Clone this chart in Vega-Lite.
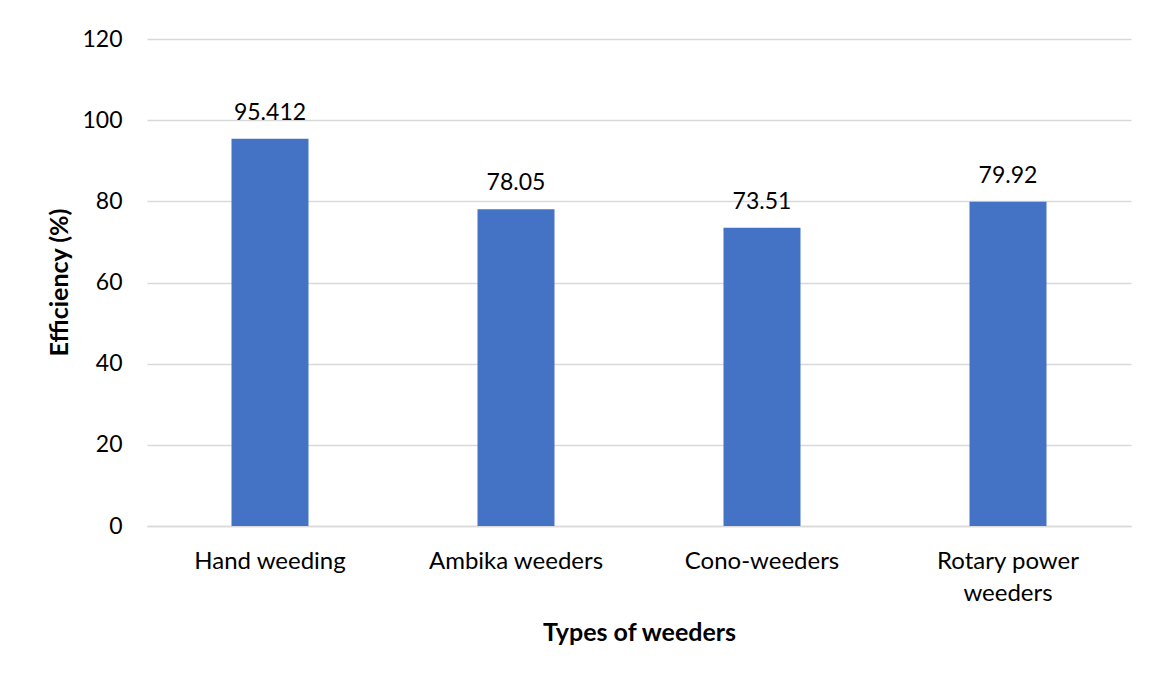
{
  "$schema": "https://vega.github.io/schema/vega-lite/v6.json",
  "autosize": "none",
  "width": 984,
  "height": 487,
  "padding": {"left": 147, "top": 39, "right": 23, "bottom": 151},
  "background": "white",
  "config": {
    "view": {"stroke": null},
    "font": "Lato"
  },
  "data": {
    "values": [
      {"weeder": "Hand weeding", "efficiency": 95.412, "label": "95.412"},
      {"weeder": "Ambika weeders", "efficiency": 78.05, "label": "78.05"},
      {"weeder": "Cono-weeders", "efficiency": 73.51, "label": "73.51"},
      {"weeder": "Rotary power weeders", "efficiency": 79.92, "label": "79.92"}
    ]
  },
  "encoding": {
    "x": {
      "field": "weeder",
      "type": "nominal",
      "sort": null,
      "scale": {"paddingInner": 0.687, "paddingOuter": 0.3435},
      "axis": {
        "title": "Types of weeders",
        "titleFont": "Lato",
        "titleFontSize": 25,
        "titleFontWeight": "bold",
        "titleColor": "#000000",
        "titleBaseline": "alphabetic",
        "titleY": 114,
        "labelAngle": 0,
        "labelFont": "Lato",
        "labelFontSize": 24,
        "labelColor": "#000000",
        "labelBaseline": "alphabetic",
        "labelPadding": 42,
        "labelLineHeight": 32,
        "labelExpr": "datum.label == 'Rotary power weeders' ? ['Rotary power', 'weeders'] : datum.label",
        "ticks": false,
        "tickSize": 0,
        "domain": true,
        "domainColor": "#d9d9d9",
        "domainWidth": 1.5
      }
    },
    "y": {
      "field": "efficiency",
      "type": "quantitative",
      "scale": {"domain": [0, 120], "nice": false},
      "axis": {
        "title": "Efficiency (%)",
        "titleFont": "Lato",
        "titleFontSize": 25,
        "titleFontWeight": "bold",
        "titleColor": "#000000",
        "titleAngle": -90,
        "titleBaseline": "alphabetic",
        "titleAlign": "center",
        "titleX": -80,
        "titleY": 243,
        "values": [0, 20, 40, 60, 80, 100, 120],
        "labelFont": "Lato",
        "labelFontSize": 23,
        "labelColor": "#000000",
        "labelPadding": 25,
        "ticks": false,
        "tickSize": 0,
        "domain": false,
        "grid": true,
        "gridColor": "#d9d9d9",
        "gridWidth": 1.5
      }
    }
  },
  "layer": [
    {"mark": {"type": "bar", "color": "#4472C4"}},
    {
      "mark": {"type": "text", "baseline": "alphabetic", "dy": -19, "fontSize": 23, "font": "Lato", "color": "#000000"},
      "encoding": {"text": {"field": "label"}}
    }
  ]
}
